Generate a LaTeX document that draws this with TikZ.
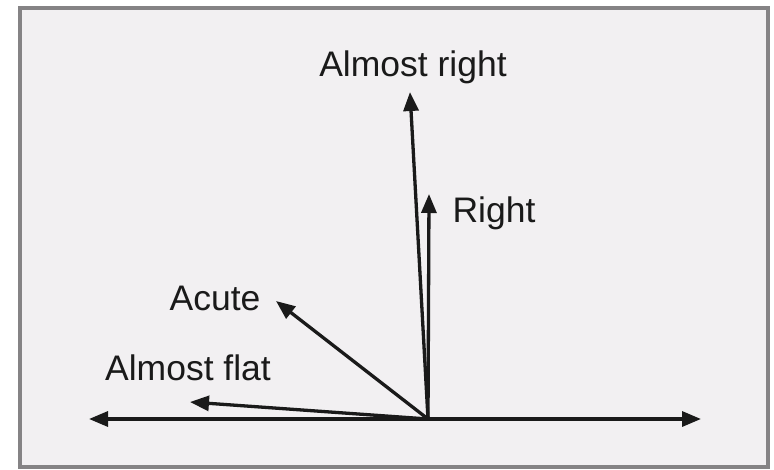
\documentclass[tikz,border=0pt]{standalone}
\usepackage{fontspec}
\setmainfont{Liberation Sans}
\usetikzlibrary{arrows.meta}
\definecolor{bgfill}{HTML}{F2F0F2}
\definecolor{frame}{HTML}{858385}
\definecolor{ink}{HTML}{1A1A1A}
\tikzset{
  vec/.style={draw=ink, line width=3.3pt, -{Triangle[length=19pt,width=15pt]}},
  lbl/.style={font=\fontsize{35.5}{42}\selectfont, text=ink, inner sep=0pt}
}
\begin{document}
\begin{tikzpicture}[x=1pt,y=-1pt]
\useasboundingbox (0,0) rectangle (774,470);
\fill[white] (0,0) rectangle (774,470);
\draw[frame, fill=bgfill, line width=4pt] (20,8) rectangle (768,467);
\coordinate (O) at (428,419);
\coordinate (L) at (89,419);
\coordinate (R) at (701,419);
\coordinate (AR) at (410,92);
\coordinate (RT) at (429,194);
\coordinate (AC) at (276,301);
\coordinate (AF) at (190,402);
\draw[vec] (O) -- (L);
\draw[vec] (O) -- (R);
\draw[vec] (O) -- (AR);
\draw[vec] (O) -- (RT);
\draw[vec] (O) -- (AC);
\draw[vec] (O) -- (AF);
\node[lbl] (tAR) at (413,67) {Almost right};
\node[lbl] (tRT) at (494,213) {Right};
\node[lbl] (tAC) at (215,298) {Acute};
\node[lbl] (tAF) at (188,368) {Almost flat};
\end{tikzpicture}
\end{document}
